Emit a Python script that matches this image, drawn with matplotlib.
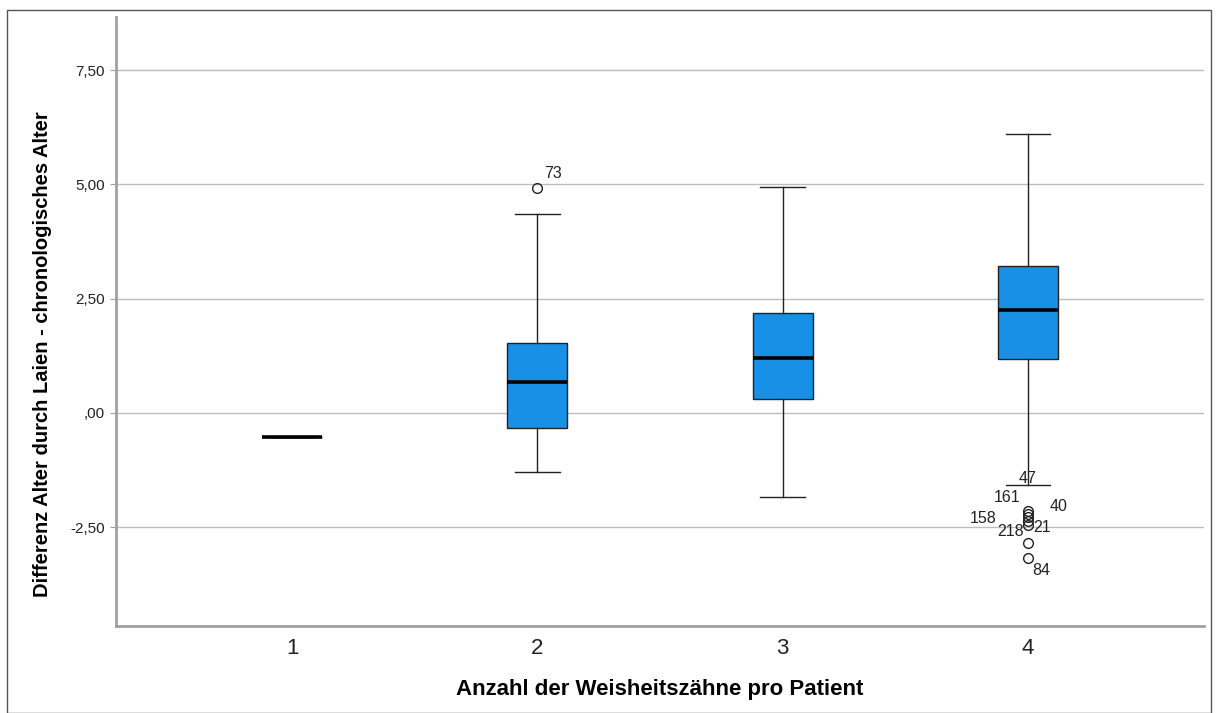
import matplotlib
matplotlib.use("Agg")
import matplotlib.pyplot as plt
from matplotlib.patches import Rectangle

plt.rcParams['font.family'] = ['Liberation Sans', 'DejaVu Sans']

# ---- data ----
groups = ["1", "2", "3", "4"]
q1 = [-0.525, -0.33, 0.31, 1.18]
medians = [-0.525, 0.68, 1.20, 2.25]
q3 = [-0.525, 1.53, 2.19, 3.22]
whisker_low = [-0.525, -1.29, -1.84, -1.58]
whisker_high = [-0.525, 4.35, 4.95, 6.10]
outliers = [[], [4.92], [], [-2.14, -2.20, -2.28, -2.36, -2.45, -2.84, -3.17]]
outlier_labels = [[], ["73"], [], ["161", "40", "158", "21", "218", "", "84"]]
extra_label_group = 4
extra_label_value = -1.58
extra_label_text = "47"
yticks = [-2.5, 0.0, 2.5, 5.0, 7.5]
ytick_labels = ["-2,50", ",00", "2,50", "5,00", "7,50"]
xlabel = "Anzahl der Weisheitszähne pro Patient"
ylabel = "Differenz Alter durch Laien - chronologisches Alter"

# label offsets in pixels (dx, dy, ha) -- styling only
label_style = {
    "73": (7, 14, "left"),
    "161": (-7, 13, "right"),
    "40": (22, 7, "left"),
    "158": (-31, -1.5, "right"),
    "21": (6, -7, "left"),
    "218": (-4, -7, "right"),
    "84": (5, -13, "left"),
}

fig = plt.figure(figsize=(12.16, 7.13), dpi=100)
fig.patches.append(Rectangle((7 / 1216, 0), 1204 / 1216, 1 - 10 / 713, transform=fig.transFigure,
                             fill=False, edgecolor="#555555", linewidth=1.0))
ax = fig.add_axes([116 / 1216, 1 - 626 / 713, (1204 - 116) / 1216, (626 - 17) / 713])

stats = []
for i, g in enumerate(groups):
    stats.append(dict(label=g, q1=q1[i], med=medians[i], q3=q3[i],
                      whislo=whisker_low[i], whishi=whisker_high[i], fliers=outliers[i]))

positions = list(range(1, len(groups) + 1))
ax.bxp(stats, positions=positions, widths=0.245, patch_artist=True, capwidths=0.18,
       boxprops=dict(facecolor="#1790e6", edgecolor="#222222", linewidth=1.0),
       medianprops=dict(color="black", linewidth=2.6),
       whiskerprops=dict(color="#222222", linewidth=1.0),
       capprops=dict(color="#222222", linewidth=1.0),
       flierprops=dict(marker="o", markerfacecolor="none", markeredgecolor="#222222",
                       markersize=7, markeredgewidth=1.0),
       zorder=3)

px = 0.72
for i, labs in enumerate(outlier_labels):
    for val, lab in zip(outliers[i], labs):
        if not lab:
            continue
        dx, dy, ha = label_style[lab]
        ax.annotate(lab, (positions[i], val), xytext=(dx * px, dy * px), textcoords="offset points",
                    ha=ha, va="center", fontsize=11.5, color="#222222", zorder=5)
ax.annotate(extra_label_text, (extra_label_group, extra_label_value), xytext=(0, 7 * px),
            textcoords="offset points", ha="center", va="center", fontsize=11.5, color="#222222", zorder=5)

ax.set_xlim(0.28, 4.72)
ax.set_ylim(-4.66, 8.66)
ax.set_yticks(yticks)
ax.set_yticklabels(ytick_labels, fontsize=11, color="#222222")
ax.set_xticks(positions)
ax.set_xticklabels(groups, fontsize=16, color="#222222")
ax.tick_params(axis="x", length=0, pad=9)
ax.tick_params(axis="y", length=4, color="#a0a0a0", pad=4)
ax.grid(axis="y", color="#bdbdbd", linewidth=1.0, zorder=0)
ax.set_axisbelow(True)
for s in ["top", "right"]:
    ax.spines[s].set_visible(False)
for s in ["left", "bottom"]:
    ax.spines[s].set_color("#a0a0a0")
    ax.spines[s].set_linewidth(2)

ax.set_xlabel(xlabel, fontsize=16, fontweight="bold", va="center")
ax.xaxis.set_label_coords(0.5, -0.105)
ax.set_ylabel(ylabel, fontsize=14.5, fontweight="bold", va="center")
ax.yaxis.set_label_coords(-0.068, 0.447)

fig.savefig("out.png", dpi=100)
